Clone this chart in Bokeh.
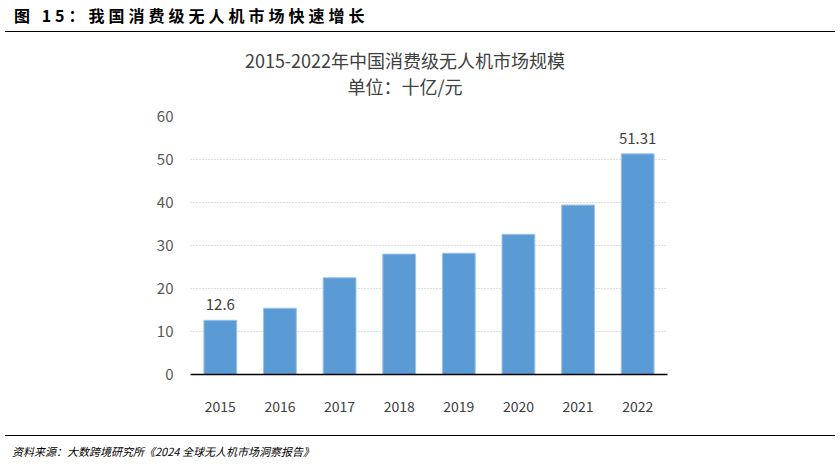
from bokeh.plotting import figure
from bokeh.models import ColumnDataSource, LabelSet, Div
from bokeh.core.properties import value
from bokeh.layouts import column
from bokeh.embed import file_html
from bokeh.resources import INLINE

years = ["2015", "2016", "2017", "2018", "2019", "2020", "2021", "2022"]
market = [12.6, 15.4, 22.5, 28.0, 28.2, 32.6, 39.4, 51.31]
shown = ["12.6", "", "", "", "", "", "", "51.31"]

FONT = "Noto Sans CJK SC"

header = Div(
    text="图 15：我国消费级无人机市场快速增长",
    width=830, height=32, margin=(0, 0, 0, 5),
    styles={"font-family": FONT, "font-weight": "bold", "font-size": "16px",
            "letter-spacing": "4px", "color": "#000",
            "border-bottom": "1.5px solid #000", "padding-left": "9px",
            "padding-top": "4px",
            "line-height": "22px", "box-sizing": "border-box"},
)

chart_title = Div(
    text="2015-2022年中国消费级无人机市场规模<br>单位：十亿/元",
    width=824, height=68, margin=0,
    styles={"font-family": FONT, "font-size": "18px", "color": "#404040",
            "text-align": "center", "line-height": "26px",
            "padding-top": "15px", "padding-right": "14px",
            "box-sizing": "border-box"},
)

src = ColumnDataSource(data=dict(year=years, value=market, label=shown))

p = figure(x_range=years, y_range=(0, 60), width=824, height=335,
           output_backend="svg", toolbar_location=None,
           min_border_left=190, min_border_right=157,
           min_border_top=16, min_border_bottom=61)
p.outline_line_color = None

p.vbar(x="year", top="value", width=0.55, source=src,
       fill_color="#5B9BD5", line_color="#9DC3E6", line_width=1)

p.add_layout(LabelSet(x="year", y="value", text="label", source=src,
                      text_align="center", text_baseline="bottom", y_offset=10,
                      text_font=value(FONT), text_font_size=value("15px"),
                      text_color="#404040"))

p.xgrid.grid_line_color = None
p.ygrid.grid_line_color = "#BFBFBF"
p.ygrid.grid_line_dash = "1 2"
p.ygrid.grid_line_width = 1

p.xaxis.axis_line_color = "#000000"
p.xaxis.axis_line_width = 1.5
p.xaxis.major_tick_line_color = None
p.xaxis.minor_tick_line_color = None
p.xaxis.major_label_standoff = 20
p.xaxis.major_label_text_font = FONT
p.xaxis.major_label_text_font_size = "14px"
p.xaxis.major_label_text_color = "#404040"

p.yaxis.axis_line_color = None
p.yaxis.major_tick_line_color = None
p.yaxis.minor_tick_line_color = None
p.yaxis.major_label_standoff = 11
p.yaxis.ticker = [0, 10, 20, 30, 40, 50, 60]
p.yaxis.major_label_text_font = FONT
p.yaxis.major_label_text_font_size = "15px"
p.yaxis.major_label_text_color = "#595959"

footer = Div(
    text="资料来源：大数跨境研究所《2024 全球无人机市场洞察报告》",
    width=830, height=30, margin=(0, 0, 0, 5),
    styles={"font-family": FONT, "font-style": "italic", "font-size": "11px",
            "color": "#000", "border-top": "1.5px solid #000",
            "padding-left": "7px", "padding-top": "8px",
            "box-sizing": "border-box"},
)

layout = column(header, chart_title, p, footer, spacing=0)

open("out.html", "w").write(file_html(layout, INLINE))
